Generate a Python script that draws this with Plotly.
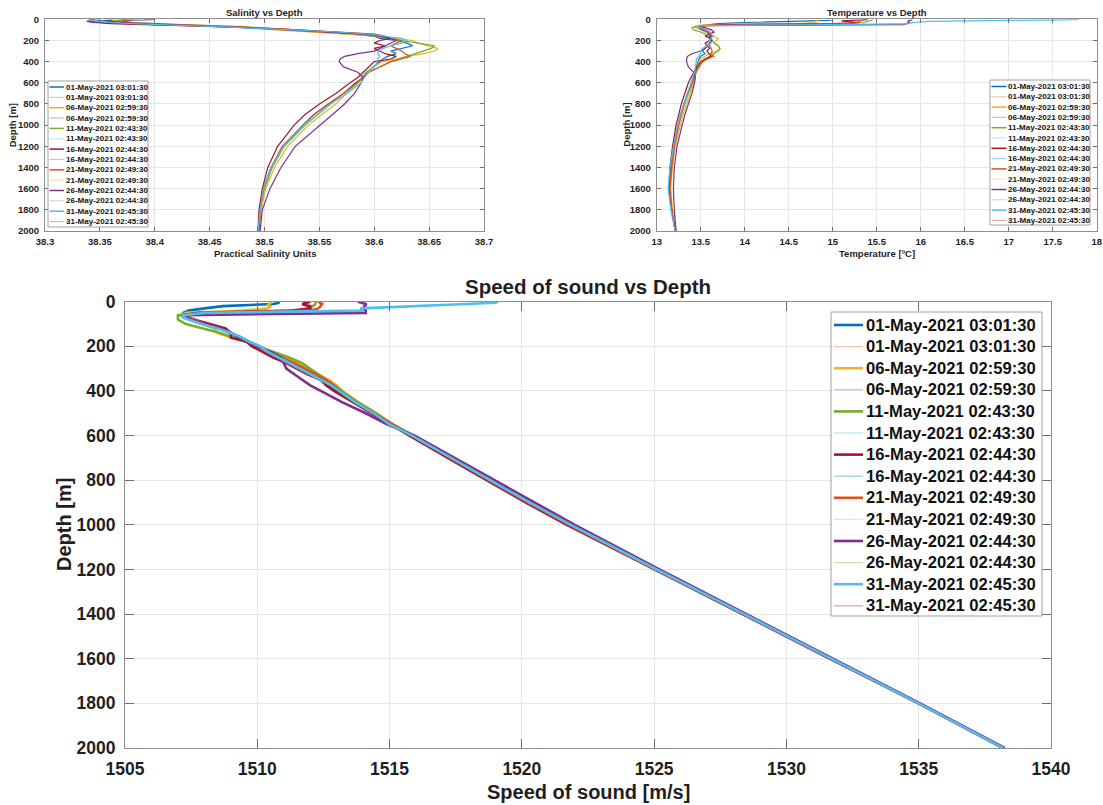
import plotly.graph_objects as go

# ---------------- data ----------------
DEPTH = [0, 5, 10, 15, 20, 30, 40, 50, 60, 70,
         80, 100, 120, 140, 160, 180, 200, 225, 250, 275,
         300, 325, 350, 375, 400, 450, 500, 550, 600, 700,
         800, 900, 1000, 1200, 1400, 1600, 1800, 2000]

DATES = ["01-May-2021 03:01:30", "06-May-2021 02:59:30", "11-May-2021 02:43:30",
         "16-May-2021 02:44:30", "21-May-2021 02:49:30", "26-May-2021 02:44:30",
         "31-May-2021 02:45:30"]

LEGEND_LABELS = ["01-May-2021 03:01:30", "01-May-2021 03:01:30",
                 "06-May-2021 02:59:30", "06-May-2021 02:59:30",
                 "11-May-2021 02:43:30", "11-May-2021 02:43:30",
                 "16-May-2021 02:44:30", "16-May-2021 02:44:30",
                 "21-May-2021 02:49:30", "21-May-2021 02:49:30",
                 "26-May-2021 02:44:30", "26-May-2021 02:44:30",
                 "31-May-2021 02:45:30", "31-May-2021 02:45:30"]

MATLAB_COLORS = ["#0072BD", "#D95319", "#EDB120", "#7E2F8E", "#77AC30", "#4DBEEE", "#A2142F"]

# Salinity (PSU)
SAL_01 = [38.40, 38.39, 38.36, 38.345, 38.34, 38.35, 38.37, 38.40, 38.43, 38.46,
          38.48, 38.52, 38.555, 38.58, 38.60, 38.605, 38.62, 38.63, 38.635, 38.625,
          38.615, 38.62, 38.612, 38.608, 38.605, 38.598, 38.593, 38.59, 38.583, 38.572,
          38.558, 38.545, 38.535, 38.517, 38.506, 38.499, 38.496, 38.494]
SAL_06 = [38.37, 38.37, 38.365, 38.36, 38.36, 38.365, 38.38, 38.41, 38.44, 38.47,
          38.49, 38.51, 38.545, 38.575, 38.60, 38.62, 38.635, 38.64, 38.65, 38.658,
          38.655, 38.645, 38.63, 38.62, 38.607, 38.60, 38.592, 38.588, 38.585, 38.575,
          38.565, 38.552, 38.54, 38.521, 38.509, 38.501, 38.497, 38.495]
SAL_11 = [38.37, 38.375, 38.37, 38.365, 38.37, 38.38, 38.40, 38.42, 38.45, 38.48,
          38.50, 38.53, 38.56, 38.585, 38.60, 38.615, 38.625, 38.64, 38.655, 38.652,
          38.645, 38.638, 38.63, 38.622, 38.615, 38.605, 38.595, 38.59, 38.585, 38.572,
          38.56, 38.548, 38.537, 38.518, 38.507, 38.50, 38.496, 38.495]
SAL_16 = [38.345, 38.34, 38.345, 38.34, 38.338, 38.345, 38.36, 38.39, 38.43, 38.46,
          38.49, 38.53, 38.57, 38.60, 38.61, 38.615, 38.605, 38.60, 38.61, 38.60,
          38.605, 38.61, 38.62, 38.615, 38.60, 38.595, 38.59, 38.585, 38.578, 38.565,
          38.55, 38.537, 38.527, 38.512, 38.503, 38.498, 38.495, 38.494]
SAL_21 = [38.38, 38.38, 38.375, 38.37, 38.37, 38.38, 38.395, 38.42, 38.45, 38.475,
          38.495, 38.53, 38.565, 38.59, 38.605, 38.615, 38.625, 38.62, 38.615, 38.62,
          38.625, 38.628, 38.633, 38.625, 38.615, 38.605, 38.595, 38.59, 38.584, 38.572,
          38.558, 38.545, 38.535, 38.516, 38.506, 38.499, 38.496, 38.495]
SAL_26 = [38.36, 38.36, 38.355, 38.355, 38.36, 38.37, 38.385, 38.41, 38.44, 38.47,
          38.49, 38.52, 38.56, 38.59, 38.605, 38.615, 38.62, 38.615, 38.61, 38.605,
          38.60, 38.585, 38.573, 38.569, 38.568, 38.572, 38.585, 38.59, 38.588, 38.582,
          38.573, 38.562, 38.551, 38.528, 38.515, 38.505, 38.498, 38.496]
SAL_31 = [38.35, 38.345, 38.34, 38.345, 38.35, 38.36, 38.38, 38.40, 38.43, 38.46,
          38.485, 38.525, 38.565, 38.595, 38.61, 38.625, 38.63, 38.625, 38.615, 38.608,
          38.604, 38.603, 38.605, 38.603, 38.603, 38.60, 38.595, 38.591, 38.588, 38.575,
          38.56, 38.548, 38.536, 38.517, 38.506, 38.499, 38.496, 38.494]

# Temperature (ºC)
TEMP_01 = [15.0, 15.0, 14.95, 14.6, 14.3, 14.0, 13.7, 13.55, 13.5, 13.48,
           13.5, 13.55, 13.6, 13.58, 13.62, 13.6, 13.63, 13.6, 13.58, 13.55,
           13.52, 13.55, 13.5, 13.48, 13.47, 13.45, 13.43, 13.42, 13.4, 13.35,
           13.31, 13.27, 13.24, 13.19, 13.16, 13.15, 13.17, 13.21]
TEMP_06 = [14.85, 14.85, 14.83, 14.8, 14.82, 14.8, 14.6, 13.6, 13.45, 13.42,
           13.45, 13.5, 13.55, 13.6, 13.65, 13.7, 13.68, 13.65, 13.7, 13.72,
           13.68, 13.6, 13.55, 13.5, 13.48, 13.46, 13.45, 13.43, 13.42, 13.38,
           13.34, 13.3, 13.27, 13.21, 13.18, 13.16, 13.18, 13.21]
TEMP_11 = [15.45, 15.45, 15.44, 15.42, 15.4, 15.35, 15.2, 14.0, 13.5, 13.45,
           13.4, 13.42, 13.5, 13.55, 13.58, 13.6, 13.62, 13.65, 13.7, 13.72,
           13.7, 13.65, 13.6, 13.55, 13.52, 13.48, 13.45, 13.43, 13.41, 13.36,
           13.32, 13.28, 13.25, 13.2, 13.17, 13.15, 13.17, 13.21]
TEMP_16 = [15.4, 15.35, 15.2, 15.1, 15.15, 15.3, 15.0, 13.8, 13.55, 13.5,
           13.55, 13.62, 13.65, 13.6, 13.55, 13.62, 13.6, 13.55, 13.58, 13.6,
           13.57, 13.6, 13.62, 13.55, 13.5, 13.46, 13.42, 13.39, 13.36, 13.32,
           13.28, 13.25, 13.22, 13.18, 13.15, 13.14, 13.17, 13.21]
TEMP_21 = [15.35, 15.35, 15.33, 15.3, 15.3, 15.28, 15.2, 14.2, 13.55, 13.5,
           13.52, 13.55, 13.6, 13.62, 13.6, 13.62, 13.63, 13.6, 13.6, 13.62,
           13.63, 13.62, 13.65, 13.58, 13.52, 13.47, 13.44, 13.42, 13.4, 13.35,
           13.31, 13.28, 13.25, 13.2, 13.17, 13.15, 13.17, 13.22]
TEMP_26 = [15.9, 15.9, 15.88, 15.85, 15.85, 15.87, 15.85, 15.8, 13.5, 13.47,
           13.48, 13.52, 13.58, 13.6, 13.62, 13.6, 13.62, 13.6, 13.57, 13.55,
           13.5, 13.4, 13.35, 13.34, 13.34, 13.36, 13.42, 13.44, 13.43, 13.4,
           13.36, 13.32, 13.29, 13.23, 13.2, 13.19, 13.2, 13.22]
TEMP_31 = [17.8, 17.6, 17.0, 16.5, 16.1, 15.9, 15.88, 15.0, 13.5, 13.45,
           13.5, 13.55, 13.6, 13.62, 13.65, 13.62, 13.6, 13.62, 13.57, 13.52,
           13.5, 13.5, 13.48, 13.45, 13.45, 13.44, 13.43, 13.41, 13.39, 13.35,
           13.31, 13.27, 13.24, 13.19, 13.15, 13.13, 13.16, 13.21]

# Speed of sound (m/s)
SOS_01 = [1510.8, 1510.8, 1510.6, 1509.5, 1508.7, 1508.0, 1507.4, 1507.2, 1507.2, 1507.3,
          1507.5, 1508.0, 1508.6, 1509.0, 1509.4, 1509.7, 1510.1, 1510.5, 1510.9, 1511.2,
          1511.6, 1512.0, 1512.4, 1512.7, 1513.0, 1513.7, 1514.4, 1515.1, 1515.9, 1517.35,
          1518.8, 1520.3, 1521.85, 1525.1, 1528.4, 1531.7, 1535.0, 1538.2]
SOS_06 = [1510.5, 1510.5, 1510.45, 1510.4, 1510.5, 1510.4, 1509.5, 1507.3, 1507.1, 1507.2,
          1507.4, 1507.9, 1508.4, 1508.5, 1509.0, 1509.6, 1510.0, 1510.6, 1511.1, 1511.6,
          1511.9, 1512.3, 1512.7, 1513.0, 1513.2, 1513.8, 1514.5, 1515.1, 1515.9, 1517.4,
          1518.85, 1520.35, 1521.9, 1525.1, 1528.4, 1531.7, 1535.0, 1538.2]
SOS_11 = [1512.2, 1512.2, 1512.2, 1512.15, 1512.1, 1512.0, 1511.6, 1508.0, 1507.0, 1507.0,
          1507.0, 1507.3, 1508.0, 1508.6, 1509.1, 1509.6, 1510.0, 1510.6, 1511.2, 1511.7,
          1512.0, 1512.3, 1512.6, 1512.9, 1513.2, 1513.8, 1514.5, 1515.1, 1515.9, 1517.35,
          1518.8, 1520.3, 1521.85, 1525.1, 1528.4, 1531.7, 1535.0, 1538.2]
SOS_16 = [1512.0, 1511.8, 1511.7, 1511.8, 1512.0, 1512.0, 1511.3, 1507.8, 1507.2, 1507.3,
          1507.6, 1508.2, 1508.8, 1509.0, 1509.0, 1509.6, 1509.8, 1510.2, 1510.6, 1511.1,
          1511.5, 1511.9, 1512.4, 1512.6, 1512.9, 1513.6, 1514.3, 1515.0, 1515.75, 1517.2,
          1518.65, 1520.15, 1521.7, 1525.0, 1528.35, 1531.65, 1535.0, 1538.2]
SOS_21 = [1512.3, 1512.4, 1512.45, 1512.4, 1512.4, 1512.3, 1512.0, 1508.5, 1507.3, 1507.4,
          1507.6, 1508.0, 1508.6, 1509.0, 1509.3, 1509.7, 1510.0, 1510.4, 1510.9, 1511.4,
          1511.8, 1512.2, 1512.6, 1512.9, 1513.1, 1513.7, 1514.4, 1515.1, 1515.85, 1517.3,
          1518.75, 1520.25, 1521.8, 1525.05, 1528.4, 1531.7, 1535.0, 1538.2]
SOS_26 = [1513.8, 1514.0, 1514.1, 1514.1, 1514.05, 1514.0, 1514.1, 1514.1, 1507.3, 1507.3,
          1507.5, 1508.0, 1508.6, 1509.0, 1509.3, 1509.7, 1510.0, 1510.5, 1510.9, 1511.0,
          1511.1, 1511.4, 1511.7, 1512.0, 1512.4, 1513.2, 1514.1, 1514.9, 1515.95, 1517.45,
          1518.95, 1520.45, 1522.0, 1525.2, 1528.5, 1531.75, 1535.05, 1538.25]
SOS_31 = [1519.1, 1519.0, 1517.9, 1516.7, 1515.6, 1513.9, 1514.0, 1508.0, 1507.2, 1507.2,
          1507.4, 1507.9, 1508.5, 1509.0, 1509.4, 1509.7, 1510.1, 1510.4, 1510.8, 1511.2,
          1511.6, 1512.0, 1512.4, 1512.8, 1513.1, 1513.7, 1514.4, 1515.0, 1515.85, 1517.3,
          1518.8, 1520.3, 1521.85, 1525.1, 1528.4, 1531.7, 1535.0, 1538.2]

SALINITY = [SAL_01, SAL_06, SAL_11, SAL_16, SAL_21, SAL_26, SAL_31]
TEMPERATURE = [TEMP_01, TEMP_06, TEMP_11, TEMP_16, TEMP_21, TEMP_26, TEMP_31]
SOUND_SPEED = [SOS_01, SOS_06, SOS_11, SOS_16, SOS_21, SOS_26, SOS_31]

SAL_TICKS = [38.3, 38.35, 38.4, 38.45, 38.5, 38.55, 38.6, 38.65, 38.7]
TEMP_TICKS = [13, 13.5, 14, 14.5, 15, 15.5, 16, 16.5, 17, 17.5, 18]
SOS_TICKS = [1505, 1510, 1515, 1520, 1525, 1530, 1535, 1540]
DEPTH_TICKS = [0, 200, 400, 600, 800, 1000, 1200, 1400, 1600, 1800, 2000]

# ---------------- styling ----------------
W, H = 1103, 805
FONT = "Liberation Sans, Arial, sans-serif"
TXT = "#1f1f1f"


def fx(px):
    return px / W


def fy(py):
    return 1 - py / H


def faint(hexc, a=0.35):
    r, g, b = int(hexc[1:3], 16), int(hexc[3:5], 16), int(hexc[5:7], 16)
    mix = lambda c: int(round(255 - (255 - c) * a))
    return "rgb(%d,%d,%d)" % (mix(r), mix(g), mix(b))


def series_color(k):
    return MATLAB_COLORS[(2 * k) % 7]


fig = go.Figure()

for k, name in enumerate(DATES):
    fig.add_trace(go.Scatter(x=SALINITY[k], y=DEPTH, mode="lines", name=name,
                             line=dict(color=series_color(k), width=1.2),
                             xaxis="x", yaxis="y", showlegend=False))
for k, name in enumerate(DATES):
    fig.add_trace(go.Scatter(x=TEMPERATURE[k], y=DEPTH, mode="lines", name=name,
                             line=dict(color=series_color(k), width=1.2),
                             xaxis="x2", yaxis="y2", showlegend=False))
for k, name in enumerate(DATES):
    fig.add_trace(go.Scatter(x=SOUND_SPEED[k], y=DEPTH, mode="lines", name=name,
                             line=dict(color=series_color(k), width=2.6),
                             xaxis="x3", yaxis="y3", showlegend=False))


def axis_style(size, ticklen, standoff):
    return dict(showline=True, linecolor="#8f8f8f", linewidth=1, mirror="ticks",
                ticks="inside", ticklen=ticklen, tickcolor="#6e6e6e", tickwidth=1,
                showgrid=True, gridcolor="#e6e6e6", gridwidth=1, zeroline=False,
                tickfont=dict(family=FONT, size=size, color=TXT, weight="bold"),
                ticklabelstandoff=standoff, automargin=False)


top_y = [fy(231), fy(19.3)]
bot_y = [fy(748), fy(301.7)]

fig.update_layout(
    width=W, height=H, margin=dict(l=0, r=0, t=0, b=0),
    paper_bgcolor="white", plot_bgcolor="white", showlegend=False,
    xaxis=dict(domain=[fx(45), fx(484)], anchor="y", range=[38.3, 38.7],
               tickvals=SAL_TICKS, ticktext=["%g" % v for v in SAL_TICKS],
               **axis_style(9.5, 4, 2)),
    yaxis=dict(domain=top_y, anchor="x", range=[2000, 0],
               tickvals=DEPTH_TICKS, ticktext=[str(v) for v in DEPTH_TICKS],
               **axis_style(9.5, 4, 3)),
    xaxis2=dict(domain=[fx(656.7), fx(1096.7)], anchor="y2", range=[13, 18],
                tickvals=TEMP_TICKS, ticktext=["%g" % v for v in TEMP_TICKS],
                **axis_style(9.5, 4, 2)),
    yaxis2=dict(domain=top_y, anchor="x2", range=[2000, 0],
                tickvals=DEPTH_TICKS, ticktext=[str(v) for v in DEPTH_TICKS],
                **axis_style(9.5, 4, 3)),
    xaxis3=dict(domain=[fx(125), fx(1051)], anchor="y3", range=[1505, 1540],
                tickvals=SOS_TICKS, ticktext=[str(v) for v in SOS_TICKS],
                **axis_style(17.5, 9, 5)),
    yaxis3=dict(domain=bot_y, anchor="x3", range=[2000, 0],
                tickvals=DEPTH_TICKS, ticktext=[str(v) for v in DEPTH_TICKS],
                **axis_style(17.5, 9, 5)),
)

annotations = []
shapes = []


def text(label, x, y, size, angle=0, xanchor="center"):
    annotations.append(dict(text=label, x=fx(x), y=fy(y), xref="paper", yref="paper",
                            showarrow=False, textangle=angle, xanchor=xanchor,
                            yanchor="middle",
                            font=dict(family=FONT, size=size, color=TXT, weight="bold")))


# titles
text("Salinity vs Depth", 264.5, 12.7, 9.5)
text("Temperature vs Depth", 876.7, 12.7, 9.5)
text("Speed of sound vs Depth", 588, 286, 20.5)
# axis titles
text("Practical Salinity Units", 264.5, 253.3, 9.5)
text("Depth [m]", 13.3, 125, 9.5, angle=-90)
text("Temperature [ºC]", 876.7, 253.3, 9.5)
text("Depth [m]", 626.7, 125, 9.5, angle=-90)
text("Speed of sound [m/s]", 588, 792, 20)
text("Depth [m]", 64, 525, 20, angle=-90)


def add_legend(box, row0, dy, lx0, lx1, tx, size, w_main, w_faint):
    x0, y0, x1, y1 = box
    shapes.append(dict(type="rect", xref="paper", yref="paper",
                       x0=fx(x0), x1=fx(x1), y0=fy(y1), y1=fy(y0),
                       line=dict(color="#a0a0a0", width=1), fillcolor="white", layer="above"))
    for i, lab in enumerate(LEGEND_LABELS):
        base = MATLAB_COLORS[i % 7]
        is_faint = i % 2 == 1
        col = faint(base) if is_faint else base
        yy = row0 + i * dy
        shapes.append(dict(type="line", xref="paper", yref="paper",
                           x0=fx(lx0), x1=fx(lx1), y0=fy(yy), y1=fy(yy),
                           line=dict(color=col, width=w_faint if is_faint else w_main),
                           layer="above"))
        annotations.append(dict(text=lab, x=fx(tx), y=fy(yy), xref="paper", yref="paper",
                                showarrow=False, xanchor="left", yanchor="middle",
                                font=dict(family=FONT, size=size, color="#111111",
                                          weight="bold")))


add_legend((48, 81, 148, 227), 87.0, 10.35, 49.5, 64, 64, 8, 1.5, 1.2)
add_legend((990, 80, 1090, 225), 86.5, 10.3, 991.5, 1006.5, 1006, 8, 1.5, 1.2)
add_legend((831, 312, 1042, 616), 325, 21.6, 834, 863, 864, 16.6, 2.6, 1.4)

fig.update_layout(annotations=annotations, shapes=shapes)

fig.write_html("out.html", config={"displayModeBar": False},
               post_script="document.body.style.margin='0';document.body.style.overflow='hidden';")
